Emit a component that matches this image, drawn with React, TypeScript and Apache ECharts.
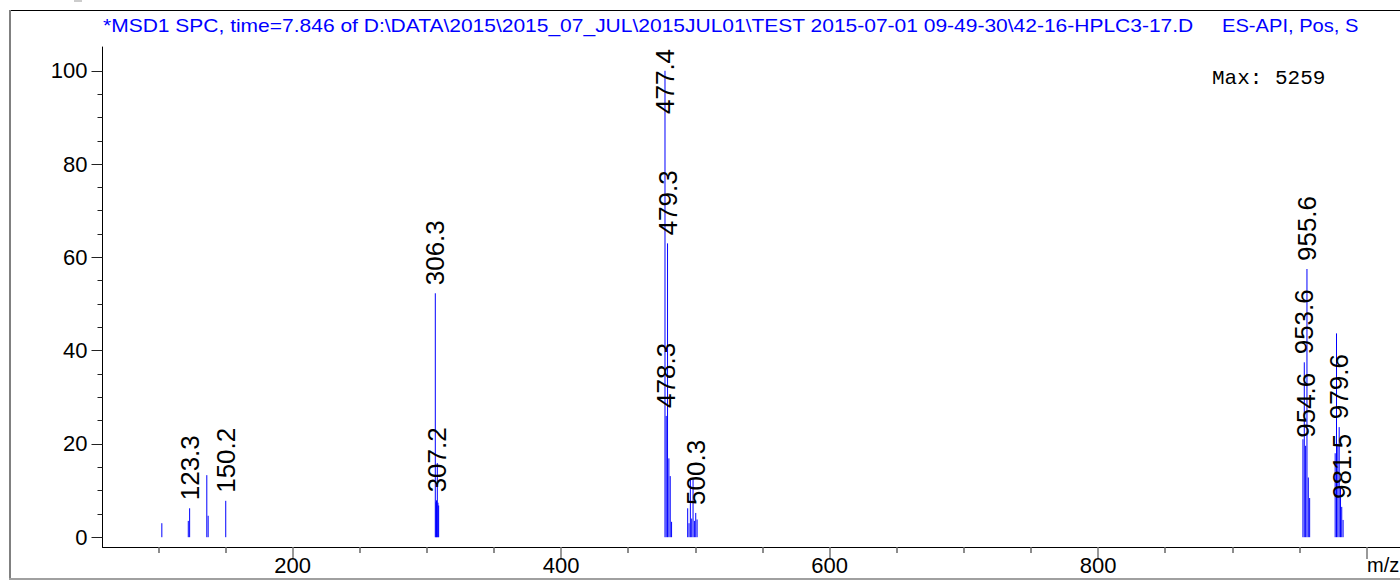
import React, { useEffect, useRef } from "react";
import * as echarts from "echarts";

const titleMain = "*MSD1 SPC, time=7.846 of D:\\DATA\\2015\\2015_07_JUL\\2015JUL01\\TEST 2015-07-01 09-49-30\\42-16-HPLC3-17.D";
const titleSide = "ES-API, Pos, S";
const maxText = "Max: 5259";
const xAxisName = "m/z";

const peakMz = [
  102.6, 122.3, 123.3, 136.1, 137.1, 150.2,
  306.3, 306.8, 307.2, 307.8, 308.3, 308.8,
  477.4, 478.3, 479.3, 480.3, 481.3, 482.3,
  494.3, 495.3, 496.3, 497.3, 498.3, 499.3, 500.3, 501.3,
  952.6, 953.6, 954.6, 955.6, 956.6, 957.6,
  976.6, 977.6, 978.6, 979.6, 980.6, 981.5, 982.5,
];
const peakIntensity = [
  3.0, 3.5, 6.2, 13.3, 4.6, 7.8,
  52.3, 7.5, 7.9, 15.9, 7.4, 6.8,
  100, 26, 63, 16.9, 13.1, 3.3,
  6.2, 3.0, 12.3, 4.0, 12.7, 3.5, 5.2, 3.8,
  21.0, 37.5, 19.6, 57.5, 12.8, 8.4,
  18.0, 43.7, 20.0, 23.6, 10.8, 6.5, 3.7,
];
const labeledMz = [123.3, 150.2, 306.3, 307.2, 477.4, 478.3, 479.3, 500.3, 953.6, 954.6, 955.6, 979.6, 981.5];

const xMajorTicks = [200, 400, 600, 800, 1000];
const xTickLabels = [200, 400, 600, 800];
const xMinorTicks = [100, 150, 250, 300, 350, 450, 500, 550, 650, 700, 750, 850, 900, 950];
const yMajorTicks = [0, 20, 40, 60, 80, 100];
const yMinorTicks = [5, 10, 15, 25, 30, 35, 45, 50, 55, 65, 70, 75, 85, 90, 95];

const FONT = "'Liberation Sans', Arial, sans-serif";

export default function App() {
  const ref = useRef<HTMLDivElement>(null);
  useEffect(() => {
    if (!ref.current) return;
    const chart = echarts.init(ref.current, null, { renderer: "svg" });
    const lineData = peakMz.map((m, i) => [m, peakIntensity[i]]);
    const labelData = peakMz
      .map((m, i) => [m, peakIntensity[i]])
      .filter((d) => labeledMz.includes(d[0]));
    const xMin = 58.4, xMax = 1024.9;
    const baseX = {
      type: "value",
      min: xMin,
      max: xMax,
      position: "bottom",
      splitLine: { show: false },
    };
    const baseY = {
      type: "value",
      min: -2.1,
      max: 105.1,
      position: "left",
      splitLine: { show: false },
    };
    const option: any = {
      animation: false,
      backgroundColor: "#ffffff",
      grid: { left: 102.5, right: 0, top: 47, bottom: 36, containLabel: false },
      xAxis: [
        {
          ...baseX,
          axisLine: { show: true, onZero: false, lineStyle: { color: "#000", width: 1 } },
          axisTick: { show: true, customValues: xMajorTicks, length: 12, lineStyle: { color: "#777", width: 1.5 } },
          axisLabel: { show: true, customValues: xTickLabels, fontSize: 22, fontFamily: FONT, color: "#000", margin: 7 },
        },
        {
          ...baseX,
          axisLine: { show: false, onZero: false },
          axisTick: { show: true, customValues: xMinorTicks, length: 6, lineStyle: { color: "#666", width: 1.5 } },
          axisLabel: { show: false },
        },
      ],
      yAxis: [
        {
          ...baseY,
          axisLine: { show: true, onZero: false, lineStyle: { color: "#000", width: 1 } },
          axisTick: { show: true, customValues: yMajorTicks, length: 11, lineStyle: { color: "#222", width: 1 } },
          axisLabel: { show: true, customValues: yMajorTicks, fontSize: 22, fontFamily: FONT, color: "#000", margin: 15 },
        },
        {
          ...baseY,
          axisLine: { show: false, onZero: false },
          axisTick: { show: true, customValues: yMinorTicks, length: 5, lineStyle: { color: "#222", width: 1 } },
          axisLabel: { show: false },
        },
      ],
      series: [
        {
          type: "custom",
          xAxisIndex: 0,
          yAxisIndex: 0,
          clip: true,
          data: lineData,
          renderItem: (params: any, api: any) => {
            const m = api.value(0);
            const h = api.value(1);
            const p0 = api.coord([m, 0]);
            const p1 = api.coord([m, h]);
            return {
              type: "line",
              shape: { x1: p0[0], y1: p0[1], x2: p1[0], y2: p1[1] },
              style: { stroke: "#0000ff", lineWidth: 1 },
            };
          },
        },
        {
          type: "custom",
          xAxisIndex: 0,
          yAxisIndex: 0,
          data: labelData,
          renderItem: (params: any, api: any) => {
            const m = api.value(0);
            const h = api.value(1);
            const p1 = api.coord([m, h]);
            const top = params.coordSys.y;
            const labelLen = 66;
            const y = Math.max(p1[1] - 8, top + labelLen + 1);
            return {
              type: "text",
              x: p1[0],
              y: y,
              rotation: Math.PI / 2,
              style: {
                text: m.toFixed(1),
                fill: "#000",
                fontSize: 26,
                fontFamily: FONT,
                align: "left",
                verticalAlign: "middle",
                textAlign: "left",
                textVerticalAlign: "middle",
              },
            };
          },
        },
      ],
      graphic: [
        { type: "rect", shape: { x: 74, y: 0, width: 8, height: 2 }, style: { fill: "#cccccc" } },
        { type: "line", shape: { x1: 9, y1: 10.5, x2: 1400, y2: 10.5 }, style: { stroke: "#000", lineWidth: 1 } },
        { type: "line", shape: { x1: 10, y1: 10, x2: 10, y2: 579 }, style: { stroke: "#808080", lineWidth: 2 } },
        { type: "line", shape: { x1: 9, y1: 579, x2: 1400, y2: 579 }, style: { stroke: "#a0a0a0", lineWidth: 2 } },
        {
          type: "text",
          x: 103,
          y: 25,
          scaleX: 1.105,
          style: { text: titleMain, fill: "#0000ff", fontSize: 19, fontFamily: FONT, align: "left", verticalAlign: "middle", textAlign: "left", textVerticalAlign: "middle" },
        },
        {
          type: "text",
          x: 1222,
          y: 25,
          scaleX: 1.06,
          style: { text: titleSide, fill: "#0000ff", fontSize: 19, fontFamily: FONT, align: "left", verticalAlign: "middle", textAlign: "left", textVerticalAlign: "middle" },
        },
        {
          type: "text",
          x: 1212,
          y: 78,
          style: { text: maxText, fill: "#000", fontSize: 21, fontFamily: "'Liberation Mono', 'Courier New', monospace", align: "left", verticalAlign: "middle", textAlign: "left", textVerticalAlign: "middle" },
        },
        {
          type: "text",
          x: 1367,
          y: 555,
          style: { text: xAxisName, fill: "#000", fontSize: 20, fontFamily: FONT, align: "left", verticalAlign: "top", textAlign: "left", textVerticalAlign: "top" },
        },
      ],
    };
    chart.setOption(option);
    return () => chart.dispose();
  }, []);
  return (
    <div
      ref={ref}
      style={{ position: "fixed", left: 0, top: 0, width: 1400, height: 583, background: "#fff" }}
    />
  );
}
